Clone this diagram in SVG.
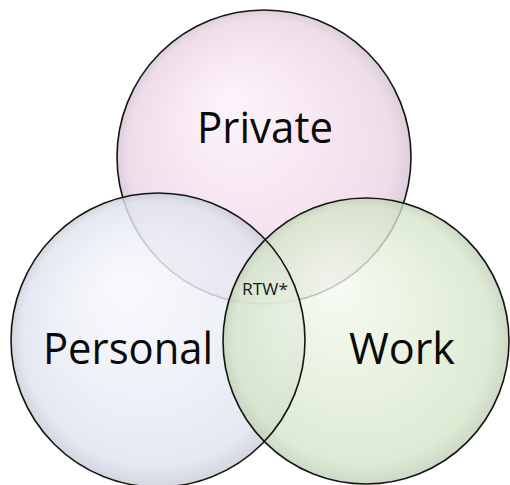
<svg xmlns="http://www.w3.org/2000/svg" width="510" height="485" viewBox="0 0 510 485">
  <style>
    .ring { fill: none; stroke: #151515; stroke-width: 1.6; }
    .big { font-family: "Open Sans", "Liberation Sans", sans-serif; font-size: 44px; fill: #0a0a0a; text-anchor: middle; }
    .small { font-family: "Open Sans", "Liberation Sans", sans-serif; font-size: 17px; fill: #1a1a1a; text-anchor: middle; }
  </style>
  <defs>
    <radialGradient id="gPink" cx="0.5" cy="0.5" r="0.5" fx="0.38" fy="0.3">
      <stop offset="0" stop-color="#fcf3f9" stop-opacity="0.85"/>
      <stop offset="0.55" stop-color="#f5e1ef" stop-opacity="0.85"/>
      <stop offset="0.9" stop-color="#ebd6e6" stop-opacity="0.85"/>
      <stop offset="1" stop-color="#d6c6d2" stop-opacity="0.85"/>
    </radialGradient>
    <radialGradient id="gBlue" cx="0.5" cy="0.5" r="0.5" fx="0.38" fy="0.3">
      <stop offset="0" stop-color="#f8f9fc" stop-opacity="0.82"/>
      <stop offset="0.55" stop-color="#ebeef6" stop-opacity="0.82"/>
      <stop offset="0.9" stop-color="#dfe3ed" stop-opacity="0.82"/>
      <stop offset="1" stop-color="#c9cdd8" stop-opacity="0.82"/>
    </radialGradient>
    <radialGradient id="gGreen" cx="0.5" cy="0.5" r="0.5" fx="0.38" fy="0.3">
      <stop offset="0" stop-color="#f5faf1" stop-opacity="0.78"/>
      <stop offset="0.55" stop-color="#e1eed6" stop-opacity="0.78"/>
      <stop offset="0.9" stop-color="#d4e4c8" stop-opacity="0.78"/>
      <stop offset="1" stop-color="#bfcfb4" stop-opacity="0.78"/>
    </radialGradient>
  </defs>
  <rect width="510" height="485" fill="#ffffff"/>

  <!-- three overlapping sets: translucent discs, back to front -->
  <g id="private">
    <circle cx="264" cy="157" r="147" fill="url(#gPink)"/>
    <circle class="ring" cx="264" cy="157" r="147"/>
  </g>
  <g id="personal">
    <circle cx="158" cy="340" r="147" fill="url(#gBlue)"/>
  </g>
  <g id="work">
    <circle cx="366" cy="341" r="143" fill="url(#gGreen)"/>
  </g>
  <!-- outlines of the two lower sets stay crisp over both fills -->
  <g id="outlines">
    <circle class="ring" cx="158" cy="340" r="147"/>
    <circle class="ring" cx="366" cy="341" r="143"/>
  </g>

  <!-- labels -->
  <g id="labels">
    <text class="big" x="265" y="143" textLength="136" lengthAdjust="spacingAndGlyphs">Private</text>
    <text class="big" x="128" y="364" textLength="170" lengthAdjust="spacingAndGlyphs">Personal</text>
    <text class="big" x="402" y="364" textLength="106" lengthAdjust="spacingAndGlyphs">Work</text>
    <text class="small" x="265" y="295" textLength="46" lengthAdjust="spacingAndGlyphs">RTW*</text>
  </g>
  <g id="connectors"/>
</svg>
